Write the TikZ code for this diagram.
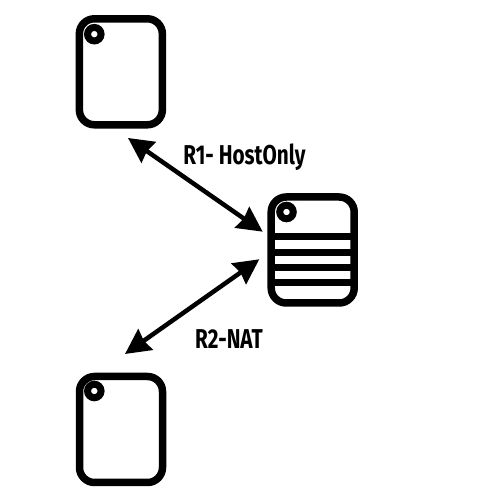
\documentclass[tikz,border=0pt]{standalone}
\usepackage{fontspec}
\setmainfont{Fira Sans}[FakeStretch=.76]
\usetikzlibrary{arrows.meta}

\begin{document}
\begin{tikzpicture}[
        hostbox/.style={draw=black, line width=.15cm, rounded corners=.3cm,
            minimum width=1.66cm, minimum height=2.12cm, inner sep=0pt},
        led/.style={circle, draw=black, line width=.14cm,
            minimum size=.27cm, inner sep=0pt},
        stripe/.style={line width=.14cm},
        link/.style={line width=.09cm, {Stealth[length=.5cm,width=.5cm,inset=.04cm]}-{Stealth[length=.5cm,width=.5cm,inset=.04cm]}},
        linklabel/.style={font=\fontsize{15.5pt}{18pt}\selectfont\bfseries, inner sep=0pt},
    ]

    \useasboundingbox (0,0) rectangle (10,10);

    \node[hostbox] (vmtop) at (2.417,8.564) {};
    \node[hostbox] (router) at (6.254,5.0) {};
    \node[hostbox] (vmbottom) at (2.42,1.41) {};

    \node[led] (ledtop) at (1.886,9.316) {};
    \node[led] (ledrouter) at (5.73,5.76) {};
    \node[led] (ledbottom) at (1.886,2.18) {};

    % router stripes
    \foreach \y in {5.266,4.946,4.64,4.34}
        \draw[stripe] (5.42,\y) -- (7.09,\y);

    \coordinate (r1a) at (2.56,7.24);
    \coordinate (r1b) at (5.254,5.366);
    \coordinate (r2a) at (2.5,2.92);
    \coordinate (r2b) at (5.186,4.814);

    \draw[link] (r1a) -- (r1b);
    \draw[link] (r2a) -- (r2b);

    \node[linklabel] (r1label) at (4.89,6.85) {R1- HostOnly};
    \node[linklabel] (r2label) at (4.58,3.22) {R2-NAT};

\end{tikzpicture}
\end{document}
